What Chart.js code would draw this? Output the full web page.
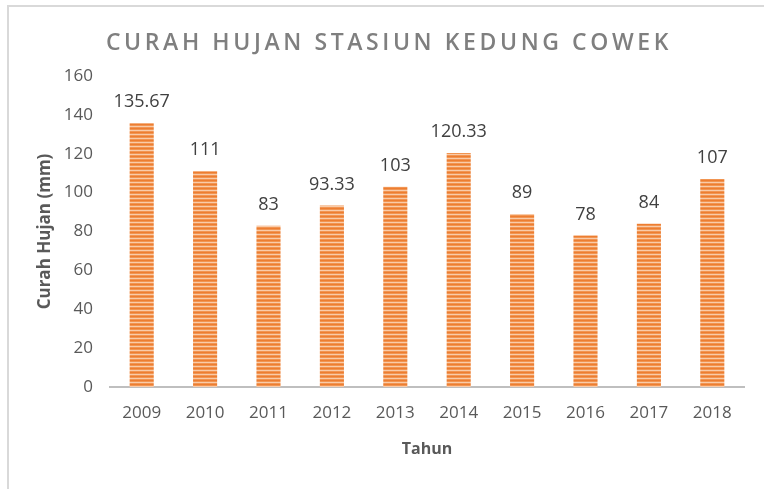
<!DOCTYPE html>
<html>
<head>
<meta charset="utf-8">
<script src="https://cdn.jsdelivr.net/npm/chart.js@4/dist/chart.umd.min.js"></script>
<style>
  html, body { margin: 0; padding: 0; background: #fff; overflow: hidden; }
  #wrap { position: relative; width: 764px; height: 489px; }
  #frame {
    position: absolute; left: 7px; top: 5px; width: 820px; height: 540px;
    border: 2px solid #d9d9d9; box-sizing: border-box;
  }
  #title {
    position: absolute; left: 0; top: 25px; width: 778px; text-align: center;
    font-family: "Open Sans", sans-serif; font-weight: 600; font-size: 23px;
    letter-spacing: 3.6px; color: #7f7f7f;
  }
  canvas { position: absolute; left: 0; top: 0; }
</style>
</head>
<body>
<div id="wrap">
  <div id="frame"></div>
  <canvas id="chart" width="764" height="489"></canvas>
  <div id="title">CURAH HUJAN STASIUN KEDUNG COWEK</div>
</div>
<script>
const years = ['2009', '2010', '2011', '2012', '2013', '2014', '2015', '2016', '2017', '2018']
const rainfall = [135.67, 111, 83, 93.33, 103, 120.33, 89, 78, 84, 107]
const valueLabels = ['135.67', '111', '83', '93.33', '103', '120.33', '89', '78', '84', '107']

const FONT = 'Open Sans'

// striped orange fill, like the Office pattern fill
function stripePattern() {
    const c = document.createElement('canvas')
    c.width = 4
    c.height = 4
    const g = c.getContext('2d')
    const rows = ['#ed7d31', '#f19552', '#f9cba9', '#f19552']
    rows.forEach((col, i) => {
        g.fillStyle = col
        g.fillRect(0, i, 4, 1)
    })
    return g.createPattern(c, 'repeat')
}

const valueLabelPlugin = {
    id: 'valueLabels',
    afterDatasetsDraw(chart) {
        const ctx = chart.ctx
        const meta = chart.getDatasetMeta(0)
        ctx.save()
        ctx.font = `18px "${FONT}"`
        ctx.fillStyle = '#404040'
        ctx.textAlign = 'center'
        ctx.textBaseline = 'middle'
        meta.data.forEach((bar, i) => {
            ctx.fillText(valueLabels[i], bar.x, bar.y - 21)
        })
        ctx.restore()
    }
}

new Chart(document.getElementById('chart'), {
    type: 'bar',
    data: {
        labels: years,
        datasets: [{
            label: 'Curah Hujan',
            data: rainfall,
            backgroundColor: stripePattern(),
            borderWidth: 0,
            categoryPercentage: 1,
            barPercentage: 0.38
        }]
    },
    options: {
        responsive: false,
        animation: false,
        layout: {
            padding: {top: 76, left: 35, right: 20, bottom: 30}
        },
        plugins: {
            legend: {display: false},
            title: {display: false},
            tooltip: {enabled: false}
        },
        scales: {
            x: {
                grid: {display: false, drawTicks: false},
                border: {display: true, color: '#bfbfbf', width: 2},
                ticks: {
                    color: '#595959',
                    font: {family: FONT, size: 17},
                    padding: 16
                },
                title: {
                    display: true,
                    text: 'Tahun',
                    color: '#595959',
                    font: {family: FONT, size: 16, weight: 'bold'},
                    padding: {top: 4, bottom: 0}
                },
                afterFit: (scale) => { scale.height = 72 }
            },
            y: {
                min: 0,
                max: 160,
                grid: {display: false, drawTicks: false},
                border: {display: false},
                ticks: {
                    stepSize: 20,
                    color: '#595959',
                    font: {family: FONT, size: 17},
                    padding: 17
                },
                title: {
                    display: true,
                    text: 'Curah Hujan (mm)',
                    color: '#595959',
                    font: {family: FONT, size: 17, weight: 'bold'},
                    padding: {top: 0, bottom: 8}
                },
                afterFit: (scale) => { scale.width = 75 }
            }
        }
    },
    plugins: [valueLabelPlugin]
})
</script>
</body>
</html>
